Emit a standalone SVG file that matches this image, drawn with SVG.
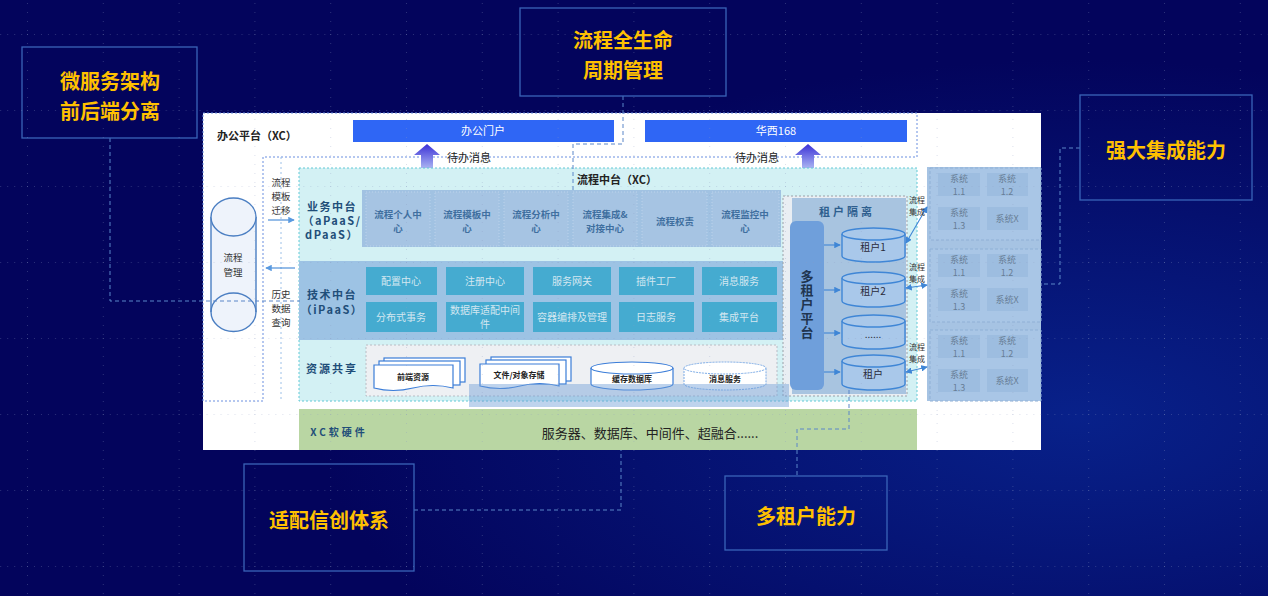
<svg xmlns="http://www.w3.org/2000/svg" width="1268" height="596" viewBox="0 0 1268 596">
<defs>
<style>
.cj{font-family:"Noto Sans CJK SC","Liberation Sans",sans-serif}
.call{fill:none;stroke:#3a64b8;stroke-width:1.3}
.ct{font-family:"Noto Sans CJK SC","Liberation Sans",sans-serif;font-size:20px;font-weight:700;fill:#ffc000;text-anchor:middle}
.dash{fill:none;stroke:#5a86c8;stroke-width:1;stroke-dasharray:4 3}
.bdash{fill:none;stroke:#6b8fe0;stroke-width:1;stroke-dasharray:2 2}
.bar{fill:#2f66f5}
.bt{font-size:11px;fill:#ffffff;text-anchor:middle}
.bz{fill:#a6c4e3;stroke:#bcd3ec;stroke-width:1;stroke-dasharray:1 2}
.bzt{font-size:9.5px;fill:#3f6f9f;text-anchor:middle;font-weight:700}
.tk{fill:#45abd0}
.tkt{font-size:10px;fill:#d3e7f0;text-anchor:middle}
.lbl{font-size:11px;font-weight:700;fill:#1f4e79;text-anchor:middle}
.sm{font-size:9.5px;fill:#333;text-anchor:middle}
.cyl{fill:#a9c8ea;stroke:#3f86d6;stroke-width:1.4}
.cylt{font-size:10px;fill:#2a2a3a;text-anchor:middle}
.sysg{fill:#a9c6e6;stroke:#8fb0d6;stroke-width:1;stroke-dasharray:3 2}
.sysb{fill:#9dbde0}
.syst{font-size:9px;fill:#687d96;text-anchor:middle}
.lnk{fill:none;stroke:#3f86d6;stroke-width:1.1}
.lt{font-size:8px;fill:#333;text-anchor:middle}
</style>
<radialGradient id="bg" cx="0.85" cy="0.7" r="0.6">
<stop offset="0" stop-color="#08218a"/>
<stop offset="1" stop-color="#03045c"/>
</radialGradient>
<linearGradient id="upg" x1="0" y1="0" x2="0" y2="1">
<stop offset="0" stop-color="#3b30d6"/>
<stop offset="1" stop-color="#a9b3f2"/>
</linearGradient>
<pattern id="grid" x="27" y="34" width="75.8" height="76" patternUnits="userSpaceOnUse">
<line x1="0" y1="0" x2="75.8" y2="0" stroke="#8a97c0" stroke-width="1" stroke-dasharray="1 6" opacity="0.6"/>
<line x1="0" y1="0" x2="0" y2="76" stroke="#8a97c0" stroke-width="1" stroke-dasharray="1 8" opacity="0.6"/>
</pattern>
<marker id="ar" viewBox="0 0 8 8" refX="7" refY="4" markerWidth="6" markerHeight="6" orient="auto-start-reverse">
<path d="M0,0 L8,4 L0,8 Z" fill="#3f86d6"/>
</marker>
<marker id="arl" viewBox="0 0 8 8" refX="7" refY="4" markerWidth="6" markerHeight="6" orient="auto-start-reverse">
<path d="M0,0 L8,4 L0,8 Z" fill="#5a9ae0"/>
</marker>
</defs>

<rect width="1268" height="596" fill="url(#bg)"/>

<rect x="203" y="113" width="838" height="337" fill="#ffffff"/>

<g id="office-platform" class="cj">
<path class="bdash" d="M203,113 H917 V157 H263 V401 H203 Z"/>
<text x="217" y="140" font-size="11" font-weight="700" fill="#222">办公平台（XC）</text>
<rect class="bar" x="353" y="120" width="261" height="22"/>
<text class="bt" x="483" y="135">办公门户</text>
<rect class="bar" x="645" y="120" width="262" height="22"/>
<text class="bt" x="776" y="135">华西168</text>
<polygon points="427,144 440,155 433,155 433,168 421,168 421,155 414,155" fill="url(#upg)"/>
<text x="469" y="162" font-size="11" fill="#222" text-anchor="middle">待办消息</text>
<polygon points="808,144 821,155 814,155 814,168 802,168 802,155 795,155" fill="url(#upg)"/>
<text x="757" y="162" font-size="11" fill="#222" text-anchor="middle">待办消息</text>
</g>

<g id="process-mgmt" class="cj">
<path d="M211,217 V312 A22,19 0 0 0 256,312 V217" fill="#eef3fb" stroke="#4a7ec2" stroke-width="1.4"/>
<ellipse cx="233.5" cy="217" rx="22.5" ry="19" fill="#eef3fb" stroke="#4a7ec2" stroke-width="1.4"/>
<path d="M211,312 A22.5,19 0 0 1 256,312" fill="none" stroke="#4a7ec2" stroke-width="1.4"/>
<text class="sm" x="233" y="261" font-size="10"><tspan x="233">流程</tspan><tspan x="233" dy="14.6">管理</tspan></text>
<line x1="281" y1="157" x2="281" y2="401" stroke="#9cc0e8" stroke-width="1" stroke-dasharray="2 3"/>
<text class="sm" x="281" y="186"><tspan x="281">流程</tspan><tspan x="281" dy="13.8">模板</tspan><tspan x="281" dy="13.8">迁移</tspan></text>
<text class="sm" x="281" y="298"><tspan x="281">历史</tspan><tspan x="281" dy="13.8">数据</tspan><tspan x="281" dy="13.8">查询</tspan></text>
</g>

<g id="process-middle" class="cj">
<rect x="299" y="168" width="618" height="233" fill="#d3f1f4" stroke="#62c9d6" stroke-width="1" stroke-dasharray="2 2"/>
<text x="617" y="184" font-size="11" font-weight="700" fill="#222" text-anchor="middle">流程中台（XC）</text>
</g>

<g id="business-middle" class="cj">
<rect x="362" y="190" width="419" height="57" fill="#a1c2e2"/>
<rect class="bz" x="366" y="192" width="64" height="54"/>
<rect class="bz" x="435" y="192" width="64" height="54"/>
<rect class="bz" x="504" y="192" width="64" height="54"/>
<rect class="bz" x="573" y="192" width="64" height="54"/>
<rect class="bz" x="642" y="192" width="65" height="54"/>
<rect class="bz" x="712" y="192" width="67" height="54"/>
<text class="bzt" x="398" y="218"><tspan x="398">流程个人中</tspan><tspan x="398" dy="13.8">心</tspan></text>
<text class="bzt" x="467" y="218"><tspan x="467">流程模板中</tspan><tspan x="467" dy="13.8">心</tspan></text>
<text class="bzt" x="536" y="218"><tspan x="536">流程分析中</tspan><tspan x="536" dy="13.8">心</tspan></text>
<text class="bzt" x="605" y="218"><tspan x="605">流程集成&amp;</tspan><tspan x="605" dy="13.8">对接中心</tspan></text>
<text class="bzt" x="675" y="225">流程权责</text>
<text class="bzt" x="745" y="218"><tspan x="745">流程监控中</tspan><tspan x="745" dy="13.8">心</tspan></text>
<text class="lbl" x="332" y="211" font-size="9.5" letter-spacing="1.5"><tspan x="332">业务中台</tspan><tspan x="332" dy="13.8">（aPaaS/</tspan><tspan x="332" dy="13.8">dPaaS）</tspan></text>
</g>

<g id="tech-middle" class="cj">
<rect x="299" y="261" width="484" height="79" fill="#9dc3e4"/>
<rect class="tk" x="366" y="267" width="71" height="28"/>
<rect class="tk" x="446" y="267" width="78" height="28"/>
<rect class="tk" x="533" y="267" width="78" height="28"/>
<rect class="tk" x="619" y="267" width="75" height="28"/>
<rect class="tk" x="702" y="267" width="75" height="28"/>
<rect class="tk" x="366" y="302" width="71" height="30"/>
<rect class="tk" x="446" y="302" width="78" height="30"/>
<rect class="tk" x="533" y="302" width="78" height="30"/>
<rect class="tk" x="619" y="302" width="75" height="30"/>
<rect class="tk" x="702" y="302" width="75" height="30"/>
<text class="tkt" x="401" y="285">配置中心</text>
<text class="tkt" x="485" y="285">注册中心</text>
<text class="tkt" x="572" y="285">服务网关</text>
<text class="tkt" x="656" y="285">插件工厂</text>
<text class="tkt" x="739" y="285">消息服务</text>
<text class="tkt" x="401" y="321">分布式事务</text>
<text class="tkt" x="485" y="314" font-size="9.5"><tspan x="485">数据库适配中间</tspan><tspan x="485" dy="13.8">件</tspan></text>
<text class="tkt" x="572" y="321">容器编排及管理</text>
<text class="tkt" x="656" y="321">日志服务</text>
<text class="tkt" x="739" y="321">集成平台</text>
<text class="lbl" x="332" y="299" fill="#2e80c0" font-size="10" letter-spacing="1.5"><tspan x="332">技术中台</tspan><tspan x="332" dy="14.6">（iPaaS）</tspan></text>
</g>

<g id="resource-share" class="cj">
<rect x="366" y="345" width="411" height="51" fill="#eef0f3" stroke="#b8bcc4" stroke-width="1" stroke-dasharray="2 2"/>
<text class="lbl" x="332" y="373" letter-spacing="2">资源共享</text>
<rect x="384" y="358" width="81" height="24" fill="#fff" stroke="#3b7dd8" stroke-width="1.2"/>
<rect x="379" y="361" width="81" height="24" fill="#fff" stroke="#3b7dd8" stroke-width="1.2"/>
<path d="M374,365 H453 V388 Q433,383 413,388 T374,388 Z" fill="#fff" stroke="#3b7dd8" stroke-width="1.2"/>
<text x="413" y="380" font-size="8" font-weight="700" fill="#222" text-anchor="middle">前端资源</text>
<rect x="491" y="357" width="80" height="24" fill="#fff" stroke="#3b7dd8" stroke-width="1.2"/>
<rect x="486" y="360" width="80" height="24" fill="#fff" stroke="#3b7dd8" stroke-width="1.2"/>
<path d="M480,364 H559 V386 Q540,381 520,386 T480,386 Z" fill="#fff" stroke="#3b7dd8" stroke-width="1.2"/>
<text x="519" y="378" font-size="8" font-weight="700" fill="#222" text-anchor="middle">文件/对象存储</text>
<path d="M591,368 V384 A41,6 0 0 0 673,384 V368" fill="#fff" stroke="#3b7dd8" stroke-width="1.2"/>
<ellipse cx="632" cy="368" rx="41" ry="6" fill="#fff" stroke="#3b7dd8" stroke-width="1.2"/>
<text x="632" y="382" font-size="8" font-weight="700" fill="#222" text-anchor="middle">缓存数据库</text>
<path d="M684,368 V384 A41,6 0 0 0 766,384 V368" fill="#fff" stroke="#7aaae6" stroke-width="1" stroke-dasharray="2 1"/>
<ellipse cx="725" cy="368" rx="41" ry="6" fill="#fff" stroke="#7aaae6" stroke-width="1" stroke-dasharray="2 1"/>
<text x="725" y="382" font-size="8" font-weight="700" fill="#222" text-anchor="middle">消息服务</text>
</g>

<g id="tenant" class="cj">
<rect x="783" y="196" width="124" height="200" fill="#e9eef3" stroke="#9aa0a8" stroke-width="1" stroke-dasharray="2 2"/>
<rect x="792" y="198" width="114" height="196" fill="#a8c4e0"/>
<text x="847" y="216" font-size="11" font-weight="700" fill="#2f5f8f" text-anchor="middle" letter-spacing="3">租户隔离</text>
<rect x="790" y="221" width="34" height="169" rx="6" fill="#6f9fdb"/>
<text x="807" y="305" font-size="13" font-weight="700" fill="#1f3550" text-anchor="middle" letter-spacing="1" style="writing-mode:vertical-rl">多租户平台</text>
<path class="cyl" d="M842,234 V256 A31.5,6 0 0 0 905,256 V234"/>
<ellipse class="cyl" cx="873.5" cy="234" rx="31.5" ry="6"/>
<text class="cylt" x="873" y="251">租户1</text>
<path class="cyl" d="M842,278 V301 A31.5,6 0 0 0 905,301 V278"/>
<ellipse class="cyl" cx="873.5" cy="278" rx="31.5" ry="6"/>
<text class="cylt" x="873" y="295">租户2</text>
<path class="cyl" d="M842,321 V343 A31.5,6 0 0 0 905,343 V321"/>
<ellipse class="cyl" cx="873.5" cy="321" rx="31.5" ry="6"/>
<text class="cylt" x="873" y="338">......</text>
<path class="cyl" d="M842,361 V384 A31.5,6 0 0 0 905,384 V361"/>
<ellipse class="cyl" cx="873.5" cy="361" rx="31.5" ry="6"/>
<text class="cylt" x="873" y="378">租户</text>
</g>

<g id="systems" class="cj">
<rect x="927" y="167" width="114" height="234" fill="#a6c3e3"/>
<rect class="sysg" x="930" y="168" width="111" height="72"/>
<rect class="sysg" x="930" y="249" width="111" height="73"/>
<rect class="sysg" x="930" y="330" width="111" height="71"/>
<g id="sys-group-1">
<rect class="sysb" x="938" y="173" width="42" height="23"/><rect class="sysb" x="987" y="173" width="41" height="23"/>
<rect class="sysb" x="938" y="207" width="42" height="23"/><rect class="sysb" x="987" y="207" width="41" height="23"/>
<text class="syst" x="959" y="182"><tspan x="959">系统</tspan><tspan x="959" dy="13">1.1</tspan></text>
<text class="syst" x="1007" y="182"><tspan x="1007">系统</tspan><tspan x="1007" dy="13">1.2</tspan></text>
<text class="syst" x="959" y="216"><tspan x="959">系统</tspan><tspan x="959" dy="13">1.3</tspan></text>
<text class="syst" x="1007" y="222" font-size="10">系统X</text>
</g>
<g id="sys-group-2">
<rect class="sysb" x="938" y="254" width="42" height="23"/><rect class="sysb" x="987" y="254" width="41" height="23"/>
<rect class="sysb" x="938" y="288" width="42" height="23"/><rect class="sysb" x="987" y="288" width="41" height="23"/>
<text class="syst" x="959" y="263"><tspan x="959">系统</tspan><tspan x="959" dy="13">1.1</tspan></text>
<text class="syst" x="1007" y="263"><tspan x="1007">系统</tspan><tspan x="1007" dy="13">1.2</tspan></text>
<text class="syst" x="959" y="297"><tspan x="959">系统</tspan><tspan x="959" dy="13">1.3</tspan></text>
<text class="syst" x="1007" y="303" font-size="10">系统X</text>
</g>
<g id="sys-group-3">
<rect class="sysb" x="938" y="335" width="42" height="23"/><rect class="sysb" x="987" y="335" width="41" height="23"/>
<rect class="sysb" x="938" y="369" width="42" height="23"/><rect class="sysb" x="987" y="369" width="41" height="23"/>
<text class="syst" x="959" y="344"><tspan x="959">系统</tspan><tspan x="959" dy="13">1.1</tspan></text>
<text class="syst" x="1007" y="344"><tspan x="1007">系统</tspan><tspan x="1007" dy="13">1.2</tspan></text>
<text class="syst" x="959" y="378"><tspan x="959">系统</tspan><tspan x="959" dy="13">1.3</tspan></text>
<text class="syst" x="1007" y="384" font-size="10">系统X</text>
</g>
</g>

<rect x="469" y="384" width="320" height="23" fill="#6f9ed8" opacity="0.45"/>

<g id="hardware" class="cj">
<rect x="299" y="409" width="618" height="41" fill="#b9d6a3"/>
<text x="339" y="436" font-size="10" font-weight="700" fill="#1f4e79" text-anchor="middle" letter-spacing="3">XC软硬件</text>
<text x="650" y="438" font-size="13" fill="#222" text-anchor="middle">服务器、数据库、中间件、超融合......</text>
</g>

<g id="connectors" class="cj">
<line class="lnk" x1="268" y1="220" x2="294" y2="220" stroke="#5a9ae0" marker-end="url(#arl)"/>
<line class="lnk" x1="295" y1="268" x2="266" y2="268" stroke="#5a9ae0" marker-end="url(#arl)"/>
<line class="lnk" x1="824" y1="245" x2="840" y2="245" marker-end="url(#ar)"/>
<line class="lnk" x1="824" y1="290" x2="840" y2="290" marker-end="url(#ar)"/>
<line class="lnk" x1="824" y1="333" x2="840" y2="333" marker-end="url(#ar)"/>
<line class="lnk" x1="824" y1="372" x2="840" y2="372" marker-end="url(#ar)"/>
<line class="lnk" x1="906" y1="243" x2="927" y2="207" marker-start="url(#ar)" marker-end="url(#ar)"/>
<line class="lnk" x1="906" y1="288" x2="927" y2="285" marker-start="url(#ar)" marker-end="url(#ar)"/>
<line class="lnk" x1="906" y1="372" x2="927" y2="367" marker-start="url(#ar)" marker-end="url(#ar)"/>
<text class="lt" x="917" y="203"><tspan x="917">流程</tspan><tspan x="917" dy="11.6">集成</tspan></text>
<text class="lt" x="917" y="270"><tspan x="917">流程</tspan><tspan x="917" dy="11.6">集成</tspan></text>
<text class="lt" x="917" y="350"><tspan x="917">流程</tspan><tspan x="917" dy="11.6">集成</tspan></text>
<path class="dash" d="M110,138 V301 H300"/>
<path class="dash" d="M623,96 V144 H573 V192"/>
<path class="dash" d="M1080,148 H1060 V284 H1041"/>
<path class="dash" d="M414,510 H621 V450"/>
<path class="dash" d="M849,390 V429 H797 V476"/>
</g>

<g id="callouts">
<g id="c-microservice"><rect class="call" x="22" y="47" width="175" height="91"/>
<text class="ct" x="110" y="89"><tspan x="110">微服务架构</tspan><tspan x="110" dy="30">前后端分离</tspan></text></g>
<g id="c-lifecycle"><rect class="call" x="520" y="8" width="206" height="88"/>
<text class="ct" x="623" y="48"><tspan x="623">流程全生命</tspan><tspan x="623" dy="30">周期管理</tspan></text></g>
<g id="c-integration"><rect class="call" x="1080" y="95" width="172" height="105"/>
<text class="ct" x="1166" y="158">强大集成能力</text></g>
<g id="c-xinchuang"><rect class="call" x="244" y="464" width="170" height="107"/>
<text class="ct" x="329" y="528">适配信创体系</text></g>
<g id="c-tenant"><rect class="call" x="725" y="476" width="162" height="74"/>
<text class="ct" x="806" y="524">多租户能力</text></g>
</g>

<rect width="1268" height="596" fill="url(#grid)" pointer-events="none"/>
</svg>
